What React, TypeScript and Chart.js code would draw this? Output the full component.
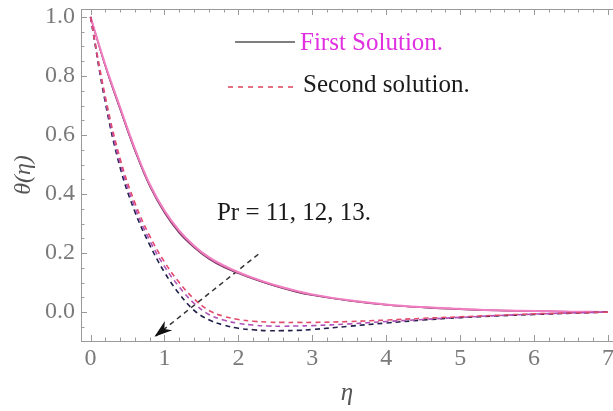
import React, { useEffect, useRef } from "react";
import { Chart, registerables } from "chart.js";

Chart.register(...registerables);

// η grid shared by all curves
const eta = [0, 0.2, 0.4, 0.6, 0.8, 1.0, 1.2, 1.4, 1.6, 1.8, 2.0, 2.2, 2.4, 2.6, 2.8, 3.0, 3.5, 4, 4.5, 5, 5.5, 6, 6.5, 7];

// First solution (solid), Pr = 11, 12, 13
const firstPr11 = [1, 0.838, 0.694, 0.554, 0.434, 0.344, 0.276, 0.225, 0.186, 0.158, 0.135, 0.116, 0.099, 0.084, 0.071, 0.06, 0.04, 0.026, 0.017, 0.011, 0.006, 0.0035, 0.0015, 0];
const firstPr12 = [1, 0.835, 0.69, 0.55, 0.43, 0.34, 0.272, 0.222, 0.183, 0.155, 0.133, 0.114, 0.097, 0.082, 0.069, 0.058, 0.039, 0.025, 0.016, 0.01, 0.006, 0.0035, 0.0015, 0];
const firstPr13 = [1, 0.832, 0.686, 0.546, 0.426, 0.336, 0.268, 0.219, 0.18, 0.152, 0.131, 0.112, 0.095, 0.08, 0.067, 0.057, 0.038, 0.024, 0.015, 0.009, 0.005, 0.003, 0.0012, 0];

// Second solution (dashed), Pr = 11, 12, 13
const secondPr11 = [1, 0.73, 0.52, 0.37, 0.258, 0.17, 0.1, 0.045, 0.006, -0.014, -0.025, -0.031, -0.034, -0.035, -0.035, -0.035, -0.032, -0.027, -0.021, -0.016, -0.011, -0.006, -0.003, 0];
const secondPr12 = [1, 0.72, 0.505, 0.355, 0.243, 0.155, 0.085, 0.03, -0.008, -0.027, -0.038, -0.044, -0.047, -0.048, -0.047, -0.046, -0.04, -0.032, -0.025, -0.018, -0.012, -0.007, -0.003, 0];
const secondPr13 = [1, 0.71, 0.49, 0.34, 0.228, 0.135, 0.062, 0.006, -0.026, -0.044, -0.055, -0.06, -0.063, -0.063, -0.062, -0.059, -0.048, -0.037, -0.027, -0.019, -0.013, -0.008, -0.004, 0];

// Arrow (tail -> head)
const arrowEta = [2.27, 0.865];
const arrowTheta = [0.196, -0.084];

// Tick labels
const xTicks = [0, 1, 2, 3, 4, 5, 6, 7];
const yTicks = [0, 0.2, 0.4, 0.6, 0.8, 1.0];

const annotationText = "Pr = 11, 12, 13.";
const annotationPos = { x: 1.71, y: 0.312 };

const legendItems = ["First Solution.", "Second solution."];

const SERIF = "'Liberation Serif', 'Times New Roman', serif";

const pts = (ys: number[]) => eta.map((x, i) => ({ x, y: ys[i] }));

export default function App() {
  const ref = useRef<HTMLCanvasElement | null>(null);

  useEffect(() => {
    document.body.style.margin = "0";
    const canvas = ref.current;
    if (!canvas) return;

    const overlay = {
      id: "overlay",
      afterDatasetsDraw(chart: any) {
        const ctx = chart.ctx;
        const { left, right, top, bottom } = chart.chartArea;
        const xs = chart.scales.x;
        const ys = chart.scales.y;
        ctx.save();
        // frame top line
        ctx.strokeStyle = "#9a9a9a";
        ctx.lineWidth = 1;
        ctx.beginPath();
        ctx.moveTo(left, top + 0.5);
        ctx.lineTo(right, top + 0.5);
        ctx.stroke();
        // x ticks (bottom & top), inward
        for (let k = 0; k <= 35; k++) {
          const v = k * 0.2;
          const px = Math.round(xs.getPixelForValue(v)) + 0.5;
          const major = k % 5 === 0;
          const len = major ? 6 : 3.5;
          ctx.beginPath();
          ctx.moveTo(px, bottom);
          ctx.lineTo(px, bottom - len);
          ctx.moveTo(px, top);
          ctx.lineTo(px, top + len);
          ctx.stroke();
        }
        // y ticks, inward
        for (let k = -1; k <= 20; k++) {
          const v = k * 0.05;
          const py = Math.round(ys.getPixelForValue(v)) + 0.5;
          if (py < top || py > bottom) continue;
          const major = k % 4 === 0;
          const len = major ? 6 : 3.5;
          ctx.beginPath();
          ctx.moveTo(left, py);
          ctx.lineTo(left + len, py);
          ctx.stroke();
        }

        // arrowhead
        const meta = chart.getDatasetMeta(6);
        if (meta && meta.data.length === 2) {
          const a = meta.data[0];
          const b = meta.data[1];
          const ang = Math.atan2(b.y - a.y, b.x - a.x);
          const L = 18;
          const W = 6;
          ctx.fillStyle = "#111";
          ctx.beginPath();
          ctx.moveTo(b.x, b.y);
          ctx.lineTo(b.x - L * Math.cos(ang) + W * Math.sin(ang), b.y - L * Math.sin(ang) - W * Math.cos(ang));
          ctx.lineTo(b.x - L * 0.7 * Math.cos(ang), b.y - L * 0.7 * Math.sin(ang));
          ctx.lineTo(b.x - L * Math.cos(ang) - W * Math.sin(ang), b.y - L * Math.sin(ang) + W * Math.cos(ang));
          ctx.closePath();
          ctx.fill();
        }

        // annotation
        ctx.fillStyle = "#1a1a1a";
        ctx.font = `25px ${SERIF}`;
        ctx.textAlign = "left";
        ctx.textBaseline = "alphabetic";
        ctx.fillText(annotationText, xs.getPixelForValue(annotationPos.x), ys.getPixelForValue(annotationPos.y));

        // legend
        ctx.font = `25px ${SERIF}`;
        ctx.strokeStyle = "#555";
        ctx.lineWidth = 1.5;
        ctx.beginPath();
        ctx.moveTo(235, 42);
        ctx.lineTo(295, 42);
        ctx.stroke();
        ctx.fillStyle = "#e030e0";
        ctx.fillText(legendItems[0], 300, 50);

        ctx.strokeStyle = "#e0405a";
        ctx.setLineDash([5, 5]);
        ctx.beginPath();
        ctx.moveTo(228, 87);
        ctx.lineTo(297, 87);
        ctx.stroke();
        ctx.setLineDash([]);
        ctx.fillStyle = "#1a1a1a";
        ctx.fillText(legendItems[1], 303, 92);
        ctx.restore();
      },
    };

    const common = { pointRadius: 0, fill: false, tension: 0.4 };

    const chart = new Chart(canvas, {
      type: "line",
      data: {
        datasets: [
          { ...common, data: pts(secondPr11), borderColor: "#e24a6e", borderWidth: 1.6, borderDash: [5, 4] },
          { ...common, data: pts(secondPr12), borderColor: "#b050b8", borderWidth: 1.6, borderDash: [5, 4] },
          { ...common, data: pts(secondPr13), borderColor: "#20204a", borderWidth: 1.6, borderDash: [5, 4] },
          { ...common, data: pts(firstPr11), borderColor: "#f07ec0", borderWidth: 2 },
          { ...common, data: pts(firstPr12), borderColor: "#b0508a", borderWidth: 1.5 },
          { ...common, data: pts(firstPr13), borderColor: "#5e2c4e", borderWidth: 1.2 },
          {
            data: arrowEta.map((x, i) => ({ x, y: arrowTheta[i] })),
            borderColor: "#333",
            borderWidth: 1.5,
            borderDash: [5, 4],
            pointRadius: 0,
            fill: false,
          },
        ],
      },
      options: {
        responsive: true,
        maintainAspectRatio: false,
        animation: false,
        layout: { padding: { top: 9, right: 0, left: 0, bottom: 0 } },
        plugins: { legend: { display: false }, tooltip: { enabled: false } },
        scales: {
          x: {
            type: "linear",
            min: -0.129,
            max: 7.068,
            afterBuildTicks: (s: any) => {
              s.ticks = xTicks.map((v) => ({ value: v }));
            },
            afterFit: (s: any) => {
              s.height = 70;
              s.paddingLeft = 0;
              s.paddingRight = 0;
            },
            grid: { display: false, drawTicks: false },
            border: { display: true, color: "#9a9a9a", width: 1 },
            ticks: {
              color: "#7a7a7a",
              font: { family: SERIF, size: 24 },
              padding: 3,
              maxRotation: 0,
              callback: (v: any) => String(v),
            },
            title: {
              display: true,
              text: "η",
              color: "#555",
              font: { family: SERIF, size: 25, style: "italic" },
              padding: { top: 0, bottom: 3 },
            },
          },
          y: {
            type: "linear",
            min: -0.098,
            max: 1.027,
            afterBuildTicks: (s: any) => {
              s.ticks = yTicks.map((v) => ({ value: v }));
            },
            afterFit: (s: any) => {
              s.width = 81;
              s.paddingTop = 0;
              s.paddingBottom = 0;
            },
            grid: { display: false, drawTicks: false },
            border: { display: true, color: "#9a9a9a", width: 1 },
            ticks: {
              color: "#7a7a7a",
              font: { family: SERIF, size: 24 },
              padding: 6,
              callback: (v: any) => Number(v).toFixed(1),
            },
            title: {
              display: true,
              text: "θ(η)",
              color: "#555",
              font: { family: SERIF, size: 24, style: "italic" },
              padding: { top: 9, bottom: 0 },
            },
          },
        },
      },
      plugins: [overlay],
    });

    return () => chart.destroy();
  }, []);

  return (
    <div style={{ width: 613, height: 411, position: "relative" }}>
      <canvas ref={ref} />
    </div>
  );
}
